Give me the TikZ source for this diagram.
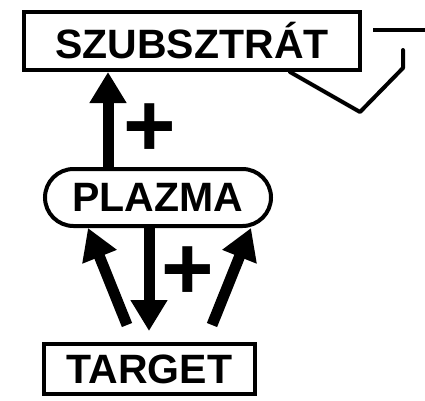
\documentclass[tikz,border=0pt]{standalone}
\usepackage{fontspec}
\setmainfont{Liberation Sans}
\usetikzlibrary{arrows.meta}
\tikzset{
  lbl/.style={font=\bfseries\fontsize{41}{41}\selectfont},
  boxnode/.style={draw, line width=4pt, inner sep=0pt, lbl},
  bigarrow/.style={line width=11pt, -{Triangle[length=31pt,width=35pt]}},
  plus/.style={font=\bfseries\fontsize{90}{90}\selectfont, inner sep=0pt},
  wire/.style={line width=4pt, line join=round, line cap=round}
}
\begin{document}
\begin{tikzpicture}[x=1pt,y=-1pt]
\useasboundingbox (0,0) rectangle (425,400);
\node[boxnode, minimum width=336pt, minimum height=58pt] (sub) at (192,41) {SZUBSZTRÁT};
\node[boxnode, rounded corners=28.5pt, minimum width=226pt, minimum height=57pt] (plasma) at (158,197.5) {PLAZMA};
\node[boxnode, minimum width=211pt, minimum height=50pt] (target) at (149.5,369) {TARGET};
% helper coordinates
\coordinate (ux) at (108,0);
\coordinate (mx) at (149,0);
\coordinate (ltail) at (127,325);
\coordinate (ltip) at (88,0);
\coordinate (rtail) at (212,325);
\coordinate (rtip) at (251,0);
\path (target.north -| mx) ++(0,-11) coordinate (mtip);
% arrows
\draw[bigarrow] (plasma.north -| ux) -- (sub.south -| ux);
\draw[bigarrow] (plasma.south -| mx) -- (mtip);
\draw[bigarrow] (ltail) -- (plasma.south -| ltip);
\draw[bigarrow] (rtail) -- (plasma.south -| rtip);
% plus labels
\node[plus] (p1) at (149.5,130) {+};
\node[plus] (p2) at (187.5,273) {+};
% ground / wire symbol
\coordinate (gx) at (290,0);
\coordinate (g1) at (360,112);
\coordinate (g2) at (403,68);
\coordinate (g3) at (403,50);
\coordinate (h1) at (373,30);
\coordinate (h2) at (427,30);
\draw[wire] (sub.south -| gx) -- (g1) -- (g2) -- (g3);
\draw[wire, line cap=butt] (h1) -- (h2);
\end{tikzpicture}
\end{document}
